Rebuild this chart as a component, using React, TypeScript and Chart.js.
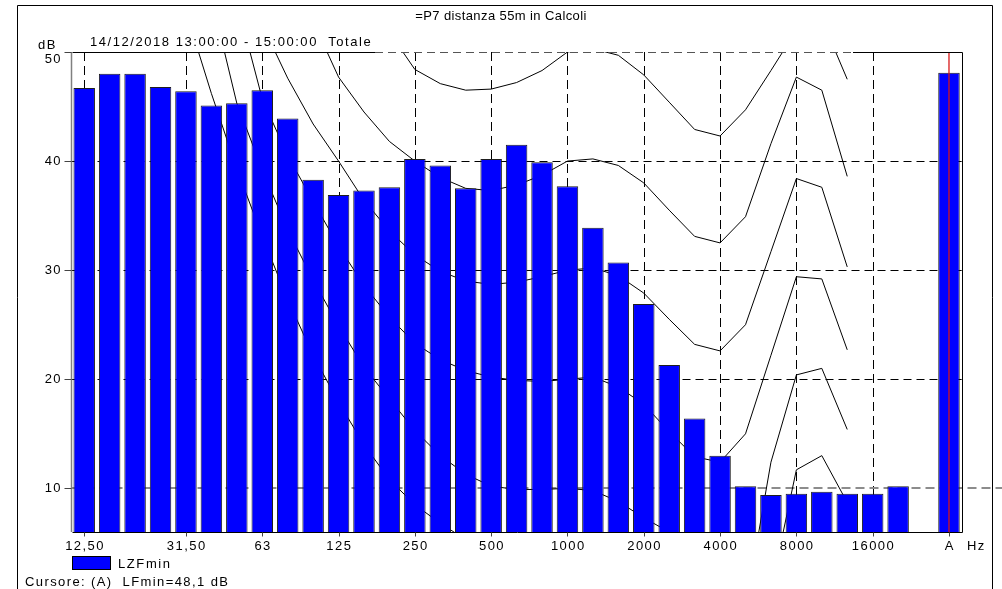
import React, { useEffect, useRef } from 'react';
import { Chart, registerables } from 'chart.js';

Chart.register(...registerables);

// Third-octave bands (Hz), an empty slot, then the A-weighted total
const BANDS = [
  '12.5', '16', '20', '25', '31.5', '40', '50', '63', '80', '100', '125', '160',
  '200', '250', '315', '400', '500', '630', '800', '1000', '1250', '1600', '2000',
  '2500', '3150', '4000', '5000', '6300', '8000', '10000', '12500', '16000', '20000',
  '', 'A',
];

// Labelled bands on the frequency axis and the text printed under them
const TICK_BANDS = ['12.5', '31.5', '63', '125', '250', '500', '1000', '2000', '4000', '8000', '16000', 'A'];
const TICK_TEXT = ['12,50', '31,50', '63', '125', '250', '500', '1000', '2000', '4000', '8000', '16000', 'A'];

// Level axis (dB)
const Y_MIN = 6;
const Y_MAX = 50;
const Y_TICKS = [10, 20, 30, 40, 50];

// LZFmin per band, dB
const LZFMIN = [
  46.7, 48.0, 48.0, 46.8, 46.4, 45.1, 45.3, 46.5, 43.9, 38.3, 36.9, 37.3,
  37.6, 40.2, 39.6, 37.5, 40.2, 41.5, 39.9, 37.7, 33.9, 30.7, 26.9,
  21.3, 16.4, 13.0, 10.2, 9.4, 9.5, 9.7, 9.5, 9.5, 10.2,
  null, 48.1,
];

// Equal-loudness contours (dB) from 20 Hz to 12.5 kHz
const _ = null;
const PHON_0 = [
  _, _, 74, 65, 53.7, 46.2, 39.3, 33.1, 27.3, 22.2, 17.9, 14.0,
  10.8, 8.5, 6.8, 5.3, 4.2, 3.3, 2.6, 2.0, 1.5, 0.5, -1.5,
  -3.5, -5, -5, -6, 0.7, 11.7, 13.0, 8.7, _, _, _, _,
];
const PHON_10 = [
  _, _, 78, 70, 62, 55.0, 45.3, 39.2, 33.7, 29.1, 24.9, 21.1,
  18.2, 15.3, 13.0, 11.3, 10.2, 9.9, 9.9, 10.0, 9.8, 8.8, 7.3,
  6.0, 4.5, 3.5, -1, 12.4, 20.4, 21.0, 15.4, _, _, _, _,
];
const PHON_20 = [
  _, _, 82, 75, 68, 61, 54.6, 45.7, 40.5, 36.3, 32.2, 28.6,
  25.7, 23.3, 21.8, 20.8, 20.2, 19.9, 19.8, 20.0, 20.2, 19.3, 17.7,
  15.2, 12.9, 12.4, 15.0, 22.2, 29.4, 29.2, 22.7, _, _, _, _,
];
const PHON_30 = [
  _, _, 86, 80, 73, 67, 60, 52.5, 47.6, 43.4, 40.0, 36.4,
  33.6, 31.4, 29.9, 29.0, 28.7, 28.9, 29.4, 30.0, 30.2, 29.5, 27.9,
  25.5, 23.2, 22.6, 25.0, 31.7, 38.4, 37.6, 30.3, _, _, _, _,
];
const PHON_40 = [
  _, _, 90, 85, 78, 72, 66, 61, 57, 52.8, 47.7, 44.5,
  41.8, 40.0, 38.5, 37.5, 37.3, 37.8, 38.7, 40.0, 40.2, 39.6, 38.0,
  35.5, 33.1, 32.5, 34.9, 41.6, 47.7, 46.5, 38.6, _, _, _, _,
];
const PHON_50 = [
  _, _, 94, 89, 83, 77, 72, 67, 63, 60, 57, 54.3,
  51.8, 48.4, 47.1, 46.5, 46.6, 47.2, 48.3, 50.0, 50.3, 49.7, 47.9,
  45.4, 42.9, 42.3, 44.7, 48.3, 52.0, 53.0, 47.5, _, _, _, _,
];
const CONTOURS = [PHON_0, PHON_10, PHON_20, PHON_30, PHON_40, PHON_50];

const TITLE = '=P7 distanza 55m in Calcoli';
const SUBTITLE = '14/12/2018 13:00:00 - 15:00:00  Totale';
const SERIES_NAME = 'LZFmin';
const CURSOR_BAND = 'A';
const CURSOR_TEXT = 'Cursore: (A)  LFmin=48,1 dB';

const W = 1002;
const H = 589;
const FONT = "13px 'Liberation Sans', Arial, sans-serif";
const BAR_BLUE = '#0000ff';

function drawText(ctx: CanvasRenderingContext2D, s: string, x: number, y: number, align: CanvasTextAlign, spacing: number) {
  ctx.save();
  ctx.font = FONT;
  ctx.fillStyle = '#000';
  ctx.textBaseline = 'middle';
  ctx.textAlign = align;
  (ctx as any).letterSpacing = spacing + 'px';
  ctx.fillText(s, x, y);
  ctx.restore();
}

function seg(ctx: CanvasRenderingContext2D, x1: number, y1: number, x2: number, y2: number) {
  ctx.beginPath();
  ctx.moveTo(x1, y1);
  ctx.lineTo(x2, y2);
  ctx.stroke();
}

const crisp = (v: number) => Math.round(v) + 0.5;

// Dashed grid behind the bars and contours, frame, cursor and texts on top
const framePlugin = {
  id: 'dashedGridAndFrame',
  beforeDatasetsDraw(chart: any) {
    const { ctx, chartArea: a, scales } = chart;
    const x = scales.x;
    const y = scales.y;
    ctx.save();
    ctx.strokeStyle = '#000';
    ctx.lineWidth = 1;
    ctx.setLineDash([8, 5]);
    for (const v of Y_TICKS) {
      if (v === 10 || v === Y_MAX) continue;
      const py = crisp(y.getPixelForValue(v));
      seg(ctx, a.left, py, a.right, py);
    }
    ctx.setLineDash([9, 5]);
    for (const b of TICK_BANDS) {
      if (b === CURSOR_BAND) continue;
      const px = crisp(x.getPixelForValue(BANDS.indexOf(b)));
      seg(ctx, px, a.top, px, a.bottom);
    }
    // 10 dB reference line, grey, running out past the frame
    ctx.strokeStyle = '#8c8c8c';
    ctx.lineWidth = 2;
    ctx.setLineDash([9, 5]);
    const p10 = Math.round(y.getPixelForValue(10));
    seg(ctx, a.left, p10, W, p10);
    ctx.restore();
  },
  afterDatasetsDraw(chart: any) {
    const { ctx, chartArea: a, scales } = chart;
    const x = scales.x;
    const y = scales.y;
    ctx.save();
    // cursor on the A band
    const cx = x.getPixelForValue(BANDS.indexOf(CURSOR_BAND));
    ctx.strokeStyle = 'rgba(215,20,20,0.85)';
    ctx.lineWidth = 1.5;
    seg(ctx, cx, a.top, cx, a.bottom);

    // plot frame
    const L = crisp(a.left), R = crisp(a.right), T = crisp(a.top), B = crisp(a.bottom);
    ctx.lineWidth = 1;
    ctx.strokeStyle = '#000';
    seg(ctx, L, T, 375, T);
    seg(ctx, 853, T, R, T);
    ctx.strokeStyle = '#555';
    ctx.setLineDash([8, 5]);
    seg(ctx, 375, T, 853, T);
    ctx.setLineDash([]);
    ctx.strokeStyle = '#000';
    seg(ctx, R, T, R, B);
    seg(ctx, L, B, R, B);
    ctx.strokeStyle = '#808080';
    ctx.lineWidth = 1.5;
    seg(ctx, a.left, a.top, a.left, a.bottom);

    // tick marks
    ctx.lineWidth = 1;
    ctx.strokeStyle = '#444';
    for (const v of Y_TICKS) {
      const py = crisp(y.getPixelForValue(v));
      seg(ctx, a.left - 7, py, a.left, py);
    }
    for (const b of TICK_BANDS) {
      const px = crisp(x.getPixelForValue(BANDS.indexOf(b)));
      seg(ctx, px, B, px, B + 4);
    }
    ctx.restore();
  },
  afterDraw(chart: any) {
    const { ctx, scales } = chart;
    const x = scales.x;
    const y = scales.y;
    ctx.save();
    // outer frame
    ctx.strokeStyle = '#000';
    ctx.lineWidth = 1;
    ctx.beginPath();
    ctx.moveTo(17.5, H);
    ctx.lineTo(17.5, 5.5);
    ctx.lineTo(992.5, 5.5);
    ctx.lineTo(992.5, H);
    ctx.stroke();

    drawText(ctx, TITLE, 501, 16, 'center', 0.4);
    drawText(ctx, SUBTITLE, 90, 42, 'left', 1.55);
    drawText(ctx, 'dB', 38, 45, 'left', 1.5);

    for (const v of Y_TICKS) {
      const py = y.getPixelForValue(v);
      drawText(ctx, String(v), 62, v === Y_MAX ? py + 7 : py + 0.5, 'right', 1.4);
    }
    TICK_BANDS.forEach((b, i) => {
      const px = x.getPixelForValue(BANDS.indexOf(b));
      drawText(ctx, TICK_TEXT[i], px + 0.8, 546, 'center', 1.45);
    });
    drawText(ctx, 'Hz', 967, 546, 'left', 1.45);

    // legend
    ctx.fillStyle = BAR_BLUE;
    ctx.fillRect(72, 556, 39, 14);
    ctx.strokeStyle = '#000';
    ctx.strokeRect(72.5, 556.5, 38, 13);
    drawText(ctx, SERIES_NAME, 118, 564, 'left', 1.6);
    drawText(ctx, CURSOR_TEXT, 25, 582, 'left', 1.4);
    ctx.restore();
  },
};

export default function App() {
  const ref = useRef<HTMLCanvasElement | null>(null);

  useEffect(() => {
    const canvas = ref.current;
    if (!canvas) return;
    const datasets: any[] = [
      {
        type: 'bar',
        label: SERIES_NAME,
        data: LZFMIN,
        backgroundColor: BAR_BLUE,
        borderColor: '#1e1e1e',
        borderWidth: 1,
        barPercentage: 0.845,
        categoryPercentage: 1,
        order: 0,
      },
      ...CONTOURS.map((c, i) => ({
        type: 'line',
        label: `${i * 10} phon`,
        data: c,
        borderColor: '#000',
        borderWidth: 1,
        pointRadius: 0,
        tension: 0,
        fill: false,
        spanGaps: false,
        order: 1,
      })),
    ];
    const chart = new Chart(canvas, {
      type: 'bar',
      data: { labels: BANDS, datasets },
      options: {
        responsive: false,
        animation: false,
        devicePixelRatio: 1,
        layout: { padding: { left: 71.5, right: W - 961.7, top: 52, bottom: H - 532 } },
        scales: {
          x: { display: false, offset: true, grid: { display: false } },
          y: { display: false, min: Y_MIN, max: Y_MAX, grid: { display: false } },
        },
        plugins: {
          legend: { display: false },
          tooltip: { enabled: false },
          title: { display: false },
        },
      },
      plugins: [framePlugin],
    } as any);
    return () => chart.destroy();
  }, []);

  return (
    <div style={{ position: 'fixed', left: 0, top: 0, width: W, height: H, background: '#fff' }}>
      <canvas ref={ref} width={W} height={H} style={{ display: 'block' }} />
    </div>
  );
}
